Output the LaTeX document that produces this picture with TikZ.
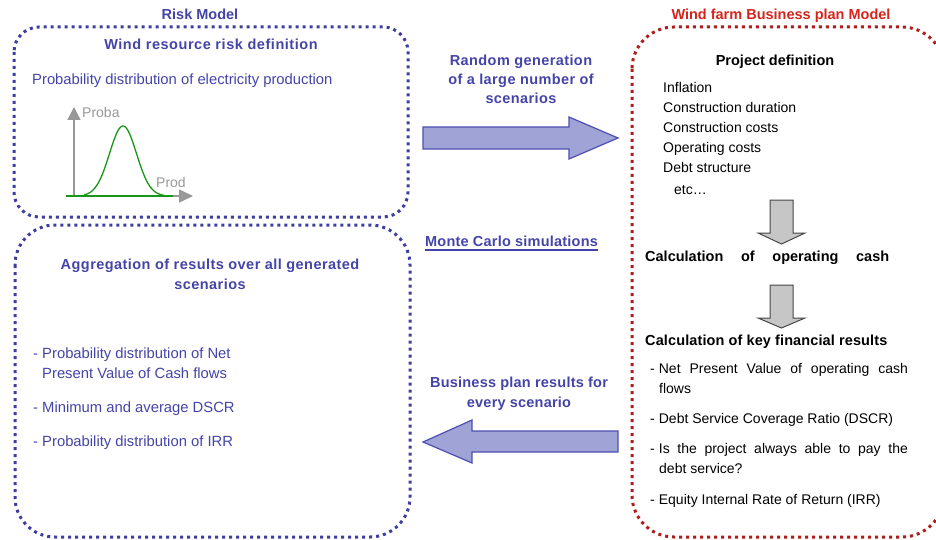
\documentclass[tikz,border=0pt]{standalone}
\usepackage{fontspec}
\setmainfont{Liberation Sans}
\usetikzlibrary{arrows.meta}

\definecolor{rmblue}{RGB}{68,68,168}
\definecolor{rmborder}{RGB}{62,62,160}
\definecolor{bptitle}{RGB}{212,36,28}
\definecolor{bpborder}{RGB}{176,28,28}
\definecolor{flowfill}{RGB}{160,163,214}
\definecolor{flowline}{RGB}{78,78,178}
\definecolor{axisgray}{RGB}{152,152,152}
\definecolor{curvegreen}{RGB}{24,150,24}
\definecolor{stepfill}{RGB}{198,198,198}
\definecolor{stepline}{RGB}{70,70,70}

\newcommand{\tracked}[1]{\addfontfeature{LetterSpace=#1}}

\tikzset{
  dotbox/.style={line width=3pt, dash pattern=on 3pt off 4pt, line cap=butt},
  bodytxt/.style={inner sep=0pt, font=\fontsize{14}{20}\selectfont},
  headtxt/.style={inner sep=0pt, font=\bfseries\fontsize{14.5}{20}\selectfont},
  bluebody/.style={inner sep=0pt, text=rmblue, font=\fontsize{14.8}{20}\selectfont},
  bluehead/.style={headtxt, text=rmblue},
  blackbody/.style={bodytxt, text=black},
  blackhead/.style={headtxt, text=black},
  graytxt/.style={bodytxt, text=axisgray},
  bigarrow/.style={fill=flowfill, draw=flowline, line width=1.2pt, line join=miter},
  steparrow/.style={fill=stepfill, draw=stepline, line width=1pt, line join=miter},
}

\begin{document}
\begin{tikzpicture}[x=1pt,y=-1pt]
\useasboundingbox (0,0) rectangle (936,540);
\begin{scope}
\clip (0,0) rectangle (936,540);

% ---------- frames ----------
\draw[dotbox, draw=rmborder, rounded corners=25pt] (14,27) rectangle (408,217);
\draw[dotbox, draw=rmborder, rounded corners=40pt] (15,225) rectangle (410,537);
\draw[dotbox, draw=bpborder, rounded corners=42pt] (632,27) rectangle (944,537);

% ---------- risk model ----------
\node[bluehead, anchor=base] (rmtitle) at (200,20) {Risk Model};
\node[bluehead, anchor=base] (wrtitle) at (211,50) {\tracked{3.8}Wind resource risk definition};
\node[bluebody, anchor=base west] (pdist) at (32,85) {Probability distribution of electricity production};

% production probability sketch
\coordinate (org) at (74,197);
\coordinate (ytop) at (74,107);
\coordinate (xend) at (193,196);
\draw[axisgray, line width=1.5pt, -{Triangle[length=13pt,width=13pt]}] (org) -- (ytop);
\draw[axisgray, line width=1.5pt, -{Triangle[length=14pt,width=13pt]}] (66,196) -- (xend);
\draw[curvegreen, line width=2.5pt] (66,196) -- (173,196);
\draw[curvegreen, line width=1.3pt] plot[domain=84:164, samples=80, smooth]
  (\x, {196-70*exp(-((\x-123)/13.5)^2/2)});
\node[graytxt, anchor=base west] (proba) at (82,118) {Proba};
\node[graytxt, anchor=base west] (prod) at (156,188) {Prod};

% ---------- aggregation ----------
\node[bluehead, anchor=base] (agg1) at (210,269) {\tracked{3.1}Aggregation of results over all generated};
\node[bluehead, anchor=base] (agg2) at (210,289) {\tracked{3.1}scenarios};
\node[bluebody, anchor=base west] (r1a) at (33,358) {- Probability distribution of Net};
\node[bluebody, anchor=base west] (r1b) at (42,378) {Present Value of Cash flows};
\node[bluebody, anchor=base west] (r2) at (33,412) {- Minimum and average DSCR};
\node[bluebody, anchor=base west] (r3) at (33,446) {- Probability distribution of IRR};

% ---------- middle column ----------
\node[bluehead, anchor=base] (rg1) at (521,66) {\tracked{2.8}Random generation};
\node[bluehead, anchor=base] (rg2) at (521,85) {\tracked{2.8}of a large number of};
\node[bluehead, anchor=base] (rg3) at (521,104) {\tracked{2.8}scenarios};
\draw[bigarrow] (423,127) -- (569,127) -- (569,117) -- (618,138) -- (569,159) -- (569,149) -- (423,149) -- cycle;

\node[bluehead, anchor=base west] (mc) at (425,246) {\tracked{1.5}Monte Carlo simulations};
\draw[rmblue, line width=1.2pt] ([yshift=-4pt]mc.base west) -- ([yshift=-4pt]mc.base east);

\node[bluehead, anchor=base] (bp1) at (519,387) {\tracked{1.5}Business plan results for};
\node[bluehead, anchor=base] (bp2) at (519,407) {\tracked{1.5}every scenario};
\draw[bigarrow] (618,431) -- (472,431) -- (472,420) -- (423,442) -- (472,463) -- (472,452) -- (618,452) -- cycle;

% ---------- business plan model ----------
\node[headtxt, text=bptitle, anchor=base] (bptitle) at (781,20) {Wind farm Business plan Model};
\node[blackhead, anchor=base] (pdef) at (775,66) {Project definition};
\node[blackbody, anchor=base west] (p1) at (663,93) {Inflation};
\node[blackbody, anchor=base west] (p2) at (663,113) {Construction duration};
\node[blackbody, anchor=base west] (p3) at (663,133) {Construction costs};
\node[blackbody, anchor=base west] (p4) at (663,153) {Operating costs};
\node[blackbody, anchor=base west] (p5) at (663,173) {Debt structure};
\node[blackbody, anchor=base west] (p6) at (674,194) {etc\ldots};

\draw[steparrow] (770,200) -- (793,200) -- (793,233) -- (805,233) -- (781.5,244) -- (758,233) -- (770,233) -- cycle;
\node[blackhead, anchor=base west] (opcash) at (645,261)
  {\hbox to 244pt{Calculation\hfill of\hfill operating\hfill cash}};
\draw[steparrow] (770,285) -- (793,285) -- (793,318) -- (805,318) -- (781.5,328) -- (758,318) -- (770,318) -- cycle;
\node[blackhead, anchor=base west] (keyres) at (645,345) {\tracked{0.8}Calculation of key financial results};

\node[blackbody, anchor=base west] (k1a) at (650,373)
  {-\hspace{4pt}\hbox to 249pt{Net\hfill Present\hfill Value\hfill of\hfill operating\hfill cash}};
\node[blackbody, anchor=base west] (k1b) at (659,393) {flows};
\node[blackbody, anchor=base west] (k2) at (650,423) {-\hspace{4pt}Debt Service Coverage Ratio (DSCR)};
\node[blackbody, anchor=base west] (k3a) at (650,453)
  {-\hspace{4pt}\hbox to 249pt{Is\hfill the\hfill project\hfill always\hfill able\hfill to\hfill pay\hfill the}};
\node[blackbody, anchor=base west] (k3b) at (659,473) {debt service?};
\node[blackbody, anchor=base west] (k4) at (650,504) {-\hspace{4pt}Equity Internal Rate of Return (IRR)};
\end{scope}
\end{tikzpicture}
\end{document}
